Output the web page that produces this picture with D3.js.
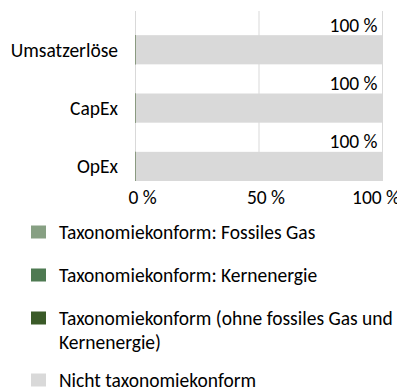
<!DOCTYPE html>
<html>
<head>
<meta charset="utf-8">
<script src="https://cdn.jsdelivr.net/npm/d3@7"></script>
<style>
  html, body { margin: 0; padding: 0; background: #fff; }
  svg { display: block; font-family: Carlito, Calibri, Lato, sans-serif; }
</style>
</head>
<body>
<svg id="chart" width="397" height="390"></svg>
<script>
// Taxonomy alignment by KPI (in %)
const categories = ["Umsatzerlöse", "CapEx", "OpEx"];
const fossilGas = [0, 0, 0];
const nuclear = [0, 0, 0];
const alignedOther = [0, 0, 0];
const notAligned = [100, 100, 100];
const xTicks = [0, 50, 100];

const seriesNames = [
  "Taxonomiekonform: Fossiles Gas",
  "Taxonomiekonform: Kernenergie",
  "Taxonomiekonform (ohne fossiles Gas und Kernenergie)",
  "Nicht taxonomiekonform"
];
const seriesColors = ["#87a083", "#4e7a52", "#3a5a28", "#d9d9d9"];
const fontSize = 19.5;

const rows = categories.map((c, i) => ({
  cat: c,
  s0: fossilGas[i],
  s1: nuclear[i],
  s2: alignedOther[i],
  s3: notAligned[i]
}));

const W = 397;
const svg = d3.select("#chart");
const x = d3.scaleLinear().domain([0, 100]).range([135.5, 382.5]);
const y = d3.scaleBand().domain(categories).range([6, 181]).paddingInner(0);

const stack = d3.stack().keys(["s0", "s1", "s2", "s3"]);
const layers = stack(rows);

// gridlines
svg.append("g")
  .selectAll("line")
  .data(xTicks)
  .join("line")
  .attr("x1", d => x(d)).attr("x2", d => x(d))
  .attr("y1", 11).attr("y2", 181)
  .attr("stroke", "#d9d9d9").attr("stroke-width", 1);

// stacked bars: each bar occupies the lower half of its band
const barH = y.bandwidth() / 2;
layers.forEach((layer, li) => {
  svg.append("g")
    .selectAll("rect")
    .data(layer)
    .join("rect")
    .attr("x", d => x(d[0]) - (li === 2 ? 0.5 : 0))
    .attr("y", d => y(d.data.cat) + y.bandwidth() - barH)
    .attr("width", d => li === 2 ? Math.max(1, x(d[1]) - x(d[0])) : Math.max(0, x(d[1]) - x(d[0])))
    .attr("height", barH)
    .attr("fill", seriesColors[li]);
});

// value labels above the non-aligned bars
svg.append("g")
  .selectAll("text")
  .data(layers[3])
  .join("text")
  .attr("x", d => x(d[1]) - 5)
  .attr("y", d => y(d.data.cat) + y.bandwidth() - barH - 3.5)
  .attr("text-anchor", "end")
  .attr("font-size", fontSize)
  .attr("fill", "#000")
  .text(d => `${d[1] - d[0]} %`);

// category labels
svg.append("g")
  .selectAll("text")
  .data(categories)
  .join("text")
  .attr("x", 118)
  .attr("y", d => y(d) + y.bandwidth() - barH / 2)
  .attr("dy", "0.35em")
  .attr("text-anchor", "end")
  .attr("font-size", fontSize)
  .attr("fill", "#000")
  .text(d => d);

// x tick labels, nudged right and kept from running far past the edge
svg.append("g")
  .selectAll("text")
  .data(xTicks)
  .join("text")
  .attr("y", 204)
  .attr("text-anchor", "start")
  .attr("font-size", fontSize)
  .attr("fill", "#000")
  .text(d => `${d} %`)
  .each(function (d) {
    const w = this.getComputedTextLength();
    const left = Math.min(x(d) + 7 - w / 2, W + 3 - w);
    d3.select(this).attr("x", left);
  });

// legend
const legendLines = [
  ["Taxonomiekonform: Fossiles Gas"],
  ["Taxonomiekonform: Kernenergie"],
  ["Taxonomiekonform (ohne fossiles Gas und", "Kernenergie)"],
  ["Nicht taxonomiekonform"]
];
const legendCenters = [232, 275, 318, 380];
const lg = svg.append("g");
seriesNames.forEach((name, i) => {
  const cy = legendCenters[i];
  lg.append("rect")
    .attr("x", 31).attr("y", cy - 6.5)
    .attr("width", 15).attr("height", 13)
    .attr("fill", seriesColors[i]);
  const t = lg.append("text")
    .attr("x", 59)
    .attr("y", cy + 7)
    .attr("font-size", fontSize)
    .attr("fill", "#000");
  legendLines[i].forEach((ln, j) => {
    t.append("tspan").attr("x", 59).attr("dy", j === 0 ? 0 : 24).text(ln);
  });
});
</script>
</body>
</html>
